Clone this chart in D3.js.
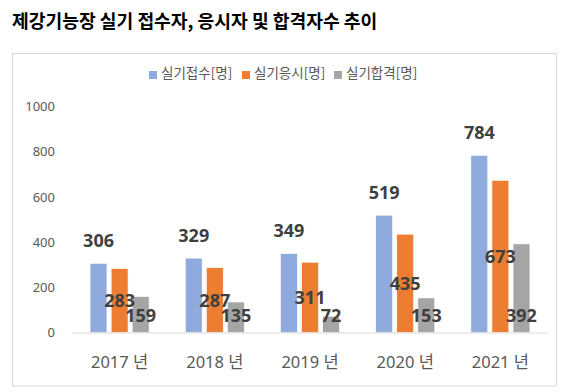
<!DOCTYPE html>
<html><head><meta charset="utf-8">
<script src="https://cdn.jsdelivr.net/npm/d3@7"></script>
<style>
html,body{margin:0;padding:0;background:#fff;}
svg{display:block;}
</style></head>
<body>
<svg id="chart" width="577" height="392"></svg>
<script>
const title = "제강기능장 실기 접수자, 응시자 및 합격자수 추이";
const categories = ["2017 년", "2018 년", "2019 년", "2020 년", "2021 년"];
const seriesNames = ["실기접수[명]", "실기응시[명]", "실기합격[명]"];
const applied = [306, 329, 349, 519, 784];
const attended = [283, 287, 311, 435, 673];
const passed = [159, 135, 72, 153, 392];
const yTicks = [0, 200, 400, 600, 800, 1000];
const colors = ["#8FAADC", "#ED7D31", "#A5A5A5"];

const seriesValues = [applied, attended, passed];
const data = categories.map((c, i) => ({cat: c, vals: seriesValues.map((s, k) => ({key: seriesNames[k], k, v: s[i]}))}));

const svg = d3.select("#chart");
const numFont = "'Noto Sans', 'Noto Sans CJK KR', sans-serif";
const krFont = "'Noto Sans CJK KR', 'Noto Sans', sans-serif";

// title
svg.append("text").attr("x", 12).attr("y", 28)
  .attr("font-family", krFont).attr("font-weight", "bold").attr("font-size", 18.2)
  .attr("fill", "#000").text(title);

// chart frame
svg.append("rect").attr("x", 12.5).attr("y", 53.5).attr("width", 544).attr("height", 332.5)
  .attr("fill", "#fff").attr("stroke", "#D9D9D9").attr("stroke-width", 1);

const x0 = d3.scaleBand().domain(categories).range([72, 548]).paddingInner(0.38).paddingOuter(0.19);
const x1 = d3.scaleBand().domain(seriesNames).range([0, x0.bandwidth()]).paddingInner(0.2);
const y = d3.scaleLinear().domain([0, 1000]).range([332.5, 106.5]);

// y axis labels
const yAxis = d3.axisLeft(y).tickValues(yTicks).tickSize(0).tickPadding(0).tickFormat(d3.format("d"));
const yg = svg.append("g").attr("transform", "translate(55,0)").call(yAxis);
yg.select(".domain").remove();
yg.selectAll("text").attr("font-family", numFont).attr("font-size", 13).attr("fill", "#595959");

// bars
const groups = svg.append("g").selectAll("g").data(data).join("g")
  .attr("transform", d => `translate(${x0(d.cat)},0)`);
groups.selectAll("rect").data(d => d.vals).join("rect")
  .attr("x", d => x1(d.key)).attr("width", x1.bandwidth())
  .attr("y", d => y(d.v)).attr("height", d => y(0) - y(d.v))
  .attr("fill", d => colors[d.k]).attr("stroke", "#fff").attr("stroke-width", 0.6);

// x axis baseline
const xAxis = d3.axisBottom(x0).tickSize(0).tickPadding(0);
const xg = svg.append("g").attr("transform", `translate(0,${y(0)})`).call(xAxis);
xg.select(".domain").attr("stroke", "#D9D9D9").attr("d", "M72,0.5H548");
xg.selectAll("text").attr("font-family", numFont).attr("font-size", 16.5).attr("fill", "#595959")
  .attr("dy", null).attr("y", 35);

// data labels
groups.selectAll("text.lbl").data(d => d.vals).join("text").attr("class", "lbl")
  .attr("x", d => x1(d.key) + x1.bandwidth() / 2)
  .attr("y", d => {
    if (d.k === 0) return y(d.v) - 16.5;
    if (d.k === 1) return (y(d.v) + y(0)) / 2 + 6.5;
    return y(0) - 10.8;
  })
  .attr("text-anchor", "middle")
  .attr("font-family", numFont).attr("font-weight", "bold").attr("font-size", 18)
  .attr("fill", "#404040").text(d => d.v);

// legend
const legendX = [149, 242, 334];
const lg = svg.append("g");
seriesNames.forEach((n, k) => {
  lg.append("rect").attr("x", legendX[k]).attr("y", 71).attr("width", 8).attr("height", 8).attr("fill", colors[k]);
  lg.append("text").attr("x", legendX[k] + 12).attr("y", 77.5)
    .attr("font-family", krFont).attr("font-size", 13.5).attr("fill", "#595959").text(n);
});
</script>
</body></html>
